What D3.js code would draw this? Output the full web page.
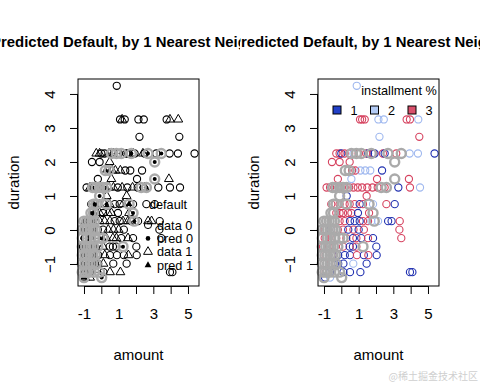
<!DOCTYPE html>
<html>
<head>
<meta charset="utf-8">
<script src="https://cdn.jsdelivr.net/npm/d3@7"></script>
<style>
  body { margin: 0; background: #fff; }
  text { font-family: "Liberation Sans", Arial, sans-serif; }
</style>
</head>
<body>
<div id="chart"></div>
<script>
// scaled german credit data: [amount, duration, default, installment %]
const trainPoints = [
  [0.89, 4.24, 0, 2],
  [1.08, 3.25, 0, 3], [1.2, 3.25, 1, 3], [1.35, 3.25, 0, 3], [2.14, 3.25, 0, 2], [2.45, 3.25, 0, 2],
  [3.77, 3.25, 0, 3], [3.96, 3.25, 1, 3], [4.44, 3.25, 1, 2],
  [2.2, 2.74, 0, 2], [4.5, 2.74, 0, 3],
  [-0.29, 2.25, 1, 3], [-0.1, 2.25, 1, 3], [0.0, 2.25, 0, 1], [0.19, 2.25, 0, 3], [0.45, 2.25, 1, 3],
  [0.7, 2.25, 1, 2], [1.0, 2.25, 0, 3], [1.44, 2.25, 0, 3], [1.54, 2.25, 0, 1], [1.85, 2.25, 1, 3],
  [1.92, 2.25, 0, 1], [2.4, 2.25, 1, 3], [2.5, 2.25, 0, 1], [3.17, 2.25, 0, 3], [3.94, 2.25, 0, 2],
  [4.42, 2.25, 0, 2], [5.38, 2.25, 0, 1],
  [-0.54, 2.0, 0, 3], [-0.1, 2.0, 0, 3], [0.48, 2.0, 1, 3],
  [0.62, 1.75, 1, 3], [0.81, 1.75, 1, 3], [1.1, 1.75, 1, 2], [1.38, 1.75, 0, 2], [1.67, 1.75, 0, 2], [2.35, 1.75, 0, 1],
  [-0.2, 1.5, 0, 3], [0.58, 1.5, 1, 2], [2.06, 1.5, 0, 3], [3.9, 1.5, 1, 3],
  [-0.85, 1.25, 0, 3], [-0.65, 1.25, 1, 3], [-0.4, 1.25, 0, 3], [-0.1, 1.25, 1, 3], [0.2, 1.25, 1, 3],
  [0.45, 1.25, 1, 3], [0.7, 1.25, 1, 3], [0.95, 1.25, 0, 3], [1.2, 1.25, 1, 3], [1.5, 1.25, 0, 3],
  [1.8, 1.25, 1, 3], [2.1, 1.25, 0, 3], [2.5, 1.25, 1, 3], [3.29, 1.25, 0, 1], [3.96, 1.25, 0, 3], [4.54, 1.25, 0, 2],
  [0.31, 1.0, 1, 1], [1.46, 1.0, 1, 3],
  [-0.58, 0.76, 0, 3], [-0.38, 0.76, 0, 3], [-0.1, 0.76, 1, 3], [0.19, 0.76, 1, 3], [0.48, 0.76, 1, 3],
  [0.77, 0.76, 0, 3], [1.06, 0.76, 0, 1], [1.25, 0.76, 1, 3], [1.83, 0.76, 0, 2], [2.6, 0.76, 0, 3], [3.08, 0.76, 0, 1],
  [-0.29, 0.5, 1, 3], [-0.1, 0.5, 1, 3], [0.1, 0.5, 0, 3], [0.39, 0.5, 1, 3], [0.58, 0.5, 1, 3],
  [0.96, 0.5, 0, 1], [1.6, 0.5, 1, 3],
  [-0.9, 0.26, 1, 3], [-0.48, 0.26, 0, 3], [-0.1, 0.26, 1, 3], [0.19, 0.26, 1, 3], [0.5, 0.26, 1, 1],
  [0.77, 0.26, 0, 1], [1.06, 0.26, 0, 1], [1.25, 0.26, 1, 3], [1.54, 0.26, 1, 3], [1.73, 0.26, 0, 2],
  [2.12, 0.26, 0, 2], [2.7, 0.26, 1, 1], [2.9, 0.26, 1, 1], [3.37, 0.26, 0, 3],
  [-0.96, 0.01, 0, 3], [-0.6, 0.01, 0, 1], [-0.2, 0.01, 0, 3], [0.1, 0.01, 0, 3], [0.4, 0.01, 1, 1],
  [0.7, 0.01, 1, 3], [1.0, 0.01, 1, 1], [1.3, 0.01, 0, 3], [3.35, 0.01, 0, 3],
  [-0.96, -0.24, 0, 3], [-0.58, -0.24, 0, 3], [-0.29, -0.24, 0, 3], [0.29, -0.24, 1, 3], [0.67, -0.24, 1, 1],
  [0.87, -0.24, 1, 3], [1.15, -0.24, 0, 1], [1.54, -0.24, 1, 3], [1.83, -0.24, 0, 1], [3.46, -0.24, 0, 3],
  [-1.06, -0.49, 0, 3], [-0.7, -0.49, 0, 3], [-0.4, -0.49, 1, 3], [0.1, -0.49, 1, 3], [0.48, -0.49, 0, 1],
  [0.67, -0.49, 0, 1], [0.87, -0.49, 0, 3], [2.02, -0.49, 0, 1],
  [-0.9, -0.74, 0, 3], [-0.5, -0.74, 1, 3], [-0.18, -0.74, 0, 1], [0.2, -0.74, 1, 1], [0.5, -0.74, 0, 1],
  [0.9, -0.74, 0, 3], [1.3, -0.74, 0, 1], [1.56, -0.74, 1, 3], [2.04, -0.74, 0, 1],
  [-1.0, -0.99, 1, 3], [-0.6, -0.99, 0, 3], [-0.37, -0.99, 0, 1], [-0.18, -0.99, 0, 1], [0.12, -0.99, 1, 1],
  [0.69, -0.99, 0, 2], [1.46, -0.99, 0, 1],
  [-0.9, -1.24, 0, 3], [-0.65, -1.24, 0, 1], [0.12, -1.24, 0, 1], [0.5, -1.24, 1, 1], [1.1, -1.24, 1, 1],
  [3.96, -1.24, 0, 1], [4.1, -1.24, 0, 1],
  [-0.94, -1.40, 1, 1], [-0.65, -1.40, 1, 2]
];

// test points: [amount, duration, predicted default]
const testPoints = [
  [0.58, 2.25, 0], [0.87, 2.25, 0], [1.15, 2.25, 0], [1.73, 2.25, 0], [2.69, 2.25, 0], [3.46, 2.25, 0],
  [3.08, 2.0, 0],
  [0.23, 1.75, 1], [0.45, 1.75, 0],
  [3.08, 1.5, 0],
  [-0.5, 1.25, 0], [-0.3, 1.25, 0], [-0.1, 1.25, 0], [0.1, 1.25, 1], [0.3, 1.25, 0], [2.3, 1.25, 0], [2.6, 1.25, 0],
  [-0.1, 1.0, 0],
  [-0.45, 0.76, 0], [-0.3, 0.76, 0], [0.3, 0.76, 0], [1.6, 0.76, 1],
  [-0.6, 0.5, 0], [-0.45, 0.5, 1], [1.83, 0.5, 0],
  [-1.0, 0.26, 0], [-0.85, 0.26, 1], [-0.7, 0.26, 0], [-0.55, 0.26, 0], [-0.4, 0.26, 0], [1.9, 0.26, 0],
  [-1.1, 0.01, 0], [-0.95, 0.01, 0], [-0.8, 0.01, 1], [-0.65, 0.01, 0], [-0.5, 0.01, 0], [-0.35, 0.01, 0],
  [-1.1, -0.24, 0], [-0.8, -0.24, 0], [-0.65, -0.24, 0], [-0.4, -0.24, 0], [-0.1, -0.24, 0], [0.1, -0.24, 1],
  [-1.1, -0.49, 0], [-0.9, -0.49, 0], [-0.75, -0.49, 0], [-0.6, -0.49, 1], [-0.45, -0.49, 0], [-0.2, -0.49, 0], [1.25, -0.49, 0],
  [-1.1, -0.74, 0], [-0.95, -0.74, 0], [-0.8, -0.74, 0], [-0.65, -0.74, 0], [-0.5, -0.74, 0], [-0.35, -0.74, 1],
  [-1.1, -0.99, 0], [-0.95, -0.99, 0], [-0.8, -0.99, 0], [-0.65, -0.99, 0], [-0.5, -0.99, 0], [-0.3, -0.99, 0],
  [-1.1, -1.24, 0], [-0.95, -1.24, 0], [-0.8, -1.24, 0], [-0.65, -1.24, 0], [-0.4, -1.24, 0], [-0.1, -1.24, 0],
  [0.02, -1.40, 0], [-1.0, -1.40, 1]
];

const xTicks = [-1, 0, 1, 2, 3, 4, 5];
const xTickLabels = ["-1", "", "1", "", "3", "", "5"];
const yTicks = [-1, 0, 1, 2, 3, 4];
const defaultLabels = ["data 0", "pred 0", "data 1", "pred 1"];
const installLevels = ["1", "2", "3"];
const installColors = ["#2030b0", "#9fb8ef", "#d6425f"];
const installFills = ["#2140c8", "#b3cbf5", "#d9506b"];
const title = "Predicted Default, by 1 Nearest Neighbor";

const svg = d3.select("#chart").append("svg")
  .attr("width", 480).attr("height", 384);

const plot = {left: 78, right: 199, top: 79, bottom: 286};

const tri = d3.symbol().type(d3.symbolTriangle);

function drawPanel(ox, mode) {
  const x = d3.scaleLinear().domain([-1.346, 5.636]).range([plot.left + ox, plot.right + ox]);
  const y = d3.scaleLinear().domain([-1.647, 4.44]).range([plot.bottom, plot.top]);

  const clipId = "clip" + ox;
  svg.append("clipPath").attr("id", clipId)
    .append("rect").attr("x", ox).attr("y", 0).attr("width", 240).attr("height", 384);

  const g = svg.append("g").attr("clip-path", "url(#" + clipId + ")");

  // title, cut by the figure region like in R
  g.append("text")
    .attr("x", (x.range()[0] + x.range()[1]) / 2 - 3)
    .attr("y", 47)
    .attr("text-anchor", "middle")
    .style("font-weight", "bold")
    .style("font-size", "14.9px")
    .text(title);

  const pts = g.append("g");
  trainPoints.forEach(d => {
    const color = mode === "default" ? "#000" : installColors[d[3] - 1];
    if (mode === "default" && d[2] === 1) {
      pts.append("path")
        .attr("d", tri.size(34)())
        .attr("transform", `translate(${x(d[0])},${y(d[1])})`)
        .attr("fill", "none").attr("stroke", color).attr("stroke-width", 1);
    } else {
      pts.append("circle")
        .attr("cx", x(d[0])).attr("cy", y(d[1])).attr("r", 3.6)
        .attr("fill", "none").attr("stroke", color).attr("stroke-width", 1.1);
    }
  });

  if (mode === "default") {
    testPoints.forEach(d => {
      if (d[2] === 1) {
        pts.append("path")
          .attr("d", tri.size(20)())
          .attr("transform", `translate(${x(d[0])},${y(d[1])})`)
          .attr("fill", "#000");
      } else {
        pts.append("circle")
          .attr("cx", x(d[0])).attr("cy", y(d[1])).attr("r", 2)
          .attr("fill", "#000");
      }
    });
  }

  testPoints.forEach(d => {
    pts.append("circle")
      .attr("cx", x(d[0])).attr("cy", y(d[1])).attr("r", 4.5)
      .attr("fill", "none").attr("stroke", "#aaaaaa").attr("stroke-width", 2.4);
  });

  // box
  g.append("rect")
    .attr("x", plot.left + ox).attr("y", plot.top)
    .attr("width", plot.right - plot.left).attr("height", plot.bottom - plot.top)
    .attr("fill", "none").attr("stroke", "#000");

  // axes
  const xAxis = d3.axisBottom(x).tickValues(xTicks).tickSize(8).tickPadding(14)
    .tickFormat((v, i) => xTickLabels[i]);
  const gx = g.append("g").attr("transform", "translate(0," + plot.bottom + ")").call(xAxis);
  gx.select(".domain").attr("d", `M${x(-1)},0.5H${x(5)}`);
  gx.selectAll("text").style("font-size", "15px").attr("font-family", null);

  const yAxis = d3.axisLeft(y).tickValues(yTicks).tickSize(8).tickFormat(d3.format("d"));
  const gy = g.append("g").attr("transform", "translate(" + (plot.left + ox) + ",0)").call(yAxis);
  gy.select(".domain").attr("d", `M-0.5,${y(-1)}V${y(4)}`);
  gy.selectAll(".tick text")
    .attr("x", null).attr("dy", null)
    .attr("transform", "translate(-29,0) rotate(-90)")
    .attr("text-anchor", "middle")
    .attr("dominant-baseline", "central")
    .style("font-size", "15px");

  g.append("text")
    .attr("x", (x.range()[0] + x.range()[1]) / 2).attr("y", 360)
    .attr("text-anchor", "middle").style("font-size", "15px").text("amount");

  g.append("text")
    .attr("transform", `translate(${13 + ox},${(plot.top + plot.bottom) / 2}) rotate(-90)`)
    .attr("text-anchor", "middle").attr("dominant-baseline", "central")
    .style("font-size", "15px").text("duration");

  // legends
  if (mode === "default") {
    const lg = g.append("g");
    lg.append("text").attr("x", 168).attr("y", 209).attr("text-anchor", "middle")
      .style("font-size", "12.7px").text("default");
    defaultLabels.forEach((lab, i) => {
      const ly = 225 + i * 13.4;
      lg.append("text").attr("x", 157).attr("y", ly + 4.5)
        .style("font-size", "12.7px").text(lab);
      if (i === 0) {
        lg.append("circle").attr("cx", 148).attr("cy", ly).attr("r", 3.6)
          .attr("fill", "none").attr("stroke", "#000");
      } else if (i === 1) {
        lg.append("circle").attr("cx", 148).attr("cy", ly).attr("r", 2.3).attr("fill", "#000");
      } else if (i === 2) {
        lg.append("path").attr("d", tri.size(34)())
          .attr("transform", `translate(148,${ly})`)
          .attr("fill", "none").attr("stroke", "#000");
      } else {
        lg.append("path").attr("d", tri.size(20)())
          .attr("transform", `translate(148,${ly})`).attr("fill", "#000");
      }
    });
  } else {
    const lg = g.append("g");
    lg.append("text").attr("x", 399).attr("y", 95).attr("text-anchor", "middle")
      .style("font-size", "12.7px").text("installment %");
    installLevels.forEach((lab, i) => {
      const sx = 337 + i * 37.5;
      lg.append("rect").attr("x", sx - 4).attr("y", 106).attr("width", 8).attr("height", 8)
        .attr("fill", installFills[i]).attr("stroke", "#000").attr("stroke-width", 1);
      lg.append("text").attr("x", sx + 17).attr("y", 115).attr("text-anchor", "middle")
        .style("font-size", "12.7px").text(lab);
    });
  }
}

drawPanel(0, "default");
drawPanel(240, "install");

svg.append("text")
  .attr("x", 478).attr("y", 380).attr("text-anchor", "end")
  .style("font-family", "'Noto Sans CJK SC', sans-serif")
  .style("font-size", "10px").attr("fill", "#cfcfcf")
  .text("@稀土掘金技术社区");
</script>
</body>
</html>
